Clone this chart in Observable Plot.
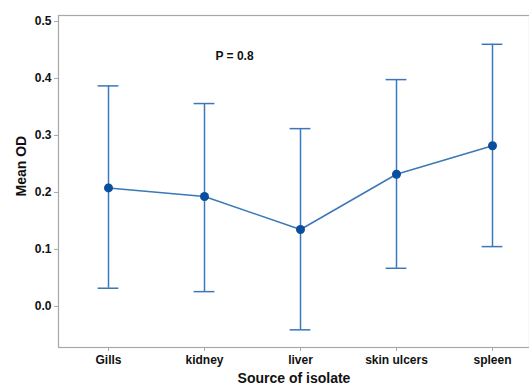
<!DOCTYPE html>
<html>
<head>
<meta charset="utf-8">
<script src="https://cdn.jsdelivr.net/npm/d3@7"></script>
<script src="https://cdn.jsdelivr.net/npm/@observablehq/plot@0.6"></script>
<style>
  html, body { margin: 0; padding: 0; background: #fff; overflow: hidden; }
  svg { display: block; }
</style>
</head>
<body>
<div id="chart"></div>
<script>
const categories = ["Gills", "kidney", "liver", "skin ulcers", "spleen"];
const means = [0.208, 0.193, 0.135, 0.232, 0.282];
const upper = [0.387, 0.356, 0.312, 0.398, 0.460];
const lower = [0.032, 0.026, -0.041, 0.067, 0.105];
const yTicks = [0.0, 0.1, 0.2, 0.3, 0.4, 0.5];
const annotation = "P = 0.8";

const data = categories.map((c, i) => ({source: c, mean: means[i], hi: upper[i], lo: lower[i]}));

const lineColor = "#3b78b9";
const dotColor = "#0a4e9e";
const font = "'Liberation Sans', Arial, sans-serif";
const step = (492 - 107) / 4;
const capInset = (step - 21) / 2;

const chart = Plot.plot({
  width: 529,
  height: 385,
  marginLeft: 58,
  marginRight: 0,
  marginTop: 15,
  marginBottom: 38,
  style: {fontFamily: font, fontSize: "12px", fontWeight: "bold", color: "#111", background: "#fff"},
  x: {type: "band", domain: categories, range: [107 - step / 2, 492 + step / 2], padding: 0, label: null},
  y: {domain: [-0.072, 0.5105], label: null},
  marks: [
    Plot.frame({stroke: "#a8a8a8", strokeWidth: 1.2}),
    Plot.axisY({ticks: yTicks, tickFormat: d3.format(".1f"), tickSize: 4, tickPadding: 3, stroke: "#a8a8a8", fontSize: 12, fontWeight: "bold", fill: "#111"}),
    Plot.axisX({tickSize: 4, tickPadding: 4, stroke: "#a8a8a8", fontSize: 12, fontWeight: "bold", fill: "#111"}),
    Plot.ruleX(data, {x: "source", y1: "lo", y2: "hi", stroke: lineColor, strokeWidth: 1.5}),
    Plot.tickY(data, {x: "source", y: "hi", stroke: lineColor, strokeWidth: 1.5, inset: capInset}),
    Plot.tickY(data, {x: "source", y: "lo", stroke: lineColor, strokeWidth: 1.5, inset: capInset}),
    Plot.line(data, {x: "source", y: "mean", stroke: lineColor, strokeWidth: 1.5}),
    Plot.dot(data, {x: "source", y: "mean", r: 4.5, fill: dotColor, stroke: "none"}),
    Plot.text([annotation], {x: () => "kidney", y: () => 0.44, dx: 30, text: d => d, fontSize: 12, fontWeight: "bold", fill: "#111"}),
    Plot.text(["Source of isolate"], {frameAnchor: "bottom", dy: 35, text: d => d, fontSize: 14, fontWeight: "bold", fill: "#111"}),
    Plot.text(["Mean OD"], {frameAnchor: "left", y: () => 0.193, dx: -37, rotate: -90, text: d => d, fontSize: 14, fontWeight: "bold", fill: "#111"})
  ]
});
document.getElementById("chart").appendChild(chart);
</script>
</body>
</html>
